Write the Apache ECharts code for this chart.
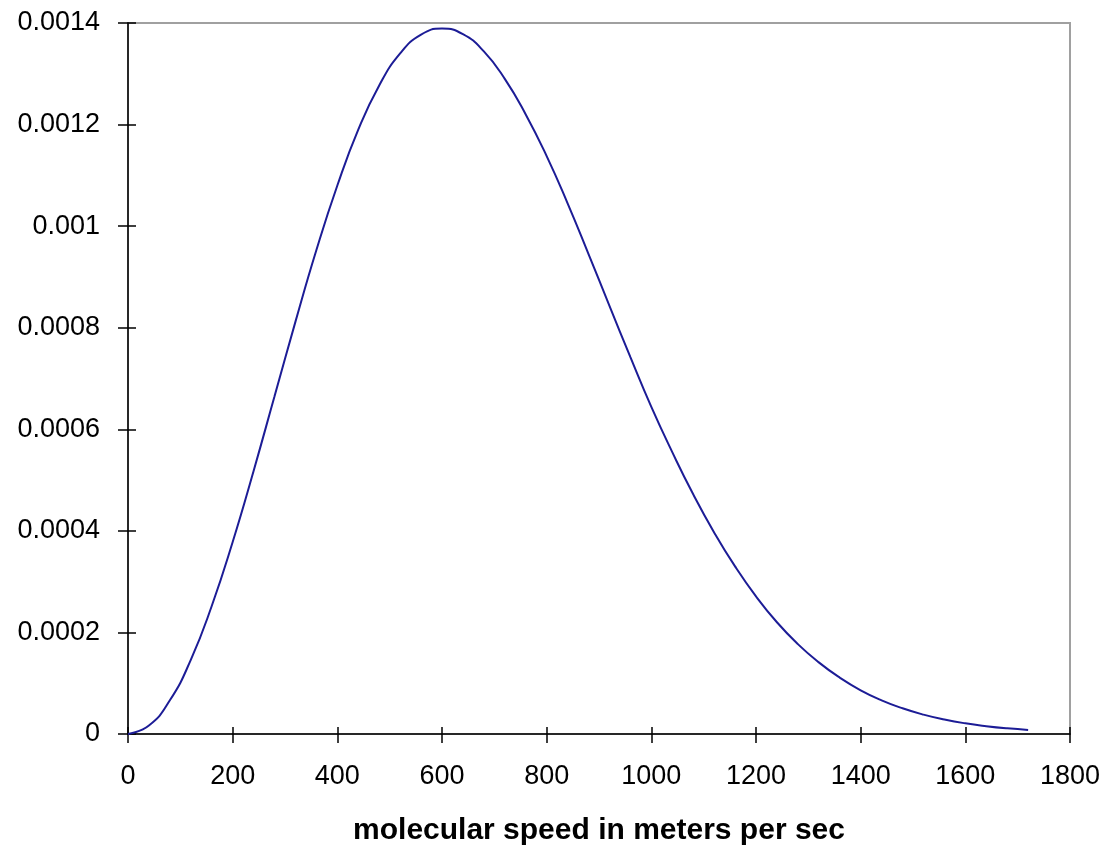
<!DOCTYPE html>
<html>
<head>
<meta charset="utf-8">
<script src="https://cdn.jsdelivr.net/npm/echarts@6/dist/echarts.min.js"></script>
<style>
html,body{margin:0;padding:0;background:#fff;}
#chart{width:1107px;height:848px;}
</style>
</head>
<body>
<div id="chart"></div>
<script>
// molecular speed (m/s)
const speeds = [0,40,80,120,160,200,240,280,320,360,400,440,480,520,560,600,640,680,720,760,800,840,880,920,960,1000,1040,1080,1120,1160,1200,1240,1280,1320,1360,1400,1440,1480,1520,1560,1600,1640,1680,1720];
// probability density
const density = [0,0.0000168,0.0000663,0.000146,0.000252,0.000378,0.000518,0.000665,0.000812,0.000953,0.00108,0.00119,0.001277,0.00134,0.001377,0.001389,0.001378,0.001344,0.00129,0.00122,0.001138,0.001045,0.000945,0.000843,0.000742,0.000644,0.000555,0.000472,0.000397,0.00033,0.000271,0.00022,0.000177,0.000141,0.000111,0.0000861,0.0000663,0.0000506,0.0000381,0.0000285,0.000021,0.0000154,0.0000111,0.000008];
const xTicks = [0,200,400,600,800,1000,1200,1400,1600,1800];
const yTicks = ['0','0.0002','0.0004','0.0006','0.0008','0.001','0.0012','0.0014'];
const xTitle = 'molecular speed in meters per sec';

const chart = echarts.init(document.getElementById('chart'));
const font = 'Liberation Sans, Arial, sans-serif';
const fmtY = v => yTicks[Math.round(v / 0.0002)] ?? String(+Number(v).toFixed(4));
const fmtX = v => String(Math.round(v));
chart.setOption({
  backgroundColor: '#ffffff',
  animation: false,
  grid: {left:128, right:37, top:23, bottom:114, containLabel:false, outerBoundsMode:'none',
         show:true, borderColor:'#a0a0a0', borderWidth:2, backgroundColor:'transparent'},
  xAxis: [
    {type:'value', min:xTicks[0], max:xTicks[xTicks.length-1], interval:200,
     name:xTitle, nameLocation:'middle', nameGap:82,
     nameTextStyle:{fontFamily:font, fontWeight:'bold', fontSize:30, color:'#000'},
     axisLine:{show:true, onZero:false, lineStyle:{color:'#000', width:1.5}},
     axisTick:{show:true, inside:false, length:9, lineStyle:{color:'#000', width:1.5}},
     axisLabel:{fontFamily:font, fontSize:27, color:'#000', margin:29, formatter:fmtX},
     splitLine:{show:false}},
    {type:'value', min:xTicks[0], max:xTicks[xTicks.length-1], interval:200, position:'bottom',
     axisLine:{show:false}, axisTick:{show:true, inside:true, length:7, lineStyle:{color:'#000', width:1.5}},
     axisLabel:{show:false}, splitLine:{show:false}}
  ],
  yAxis: [
    {type:'value', min:0, max:0.0014, interval:0.0002,
     axisLine:{show:true, onZero:false, lineStyle:{color:'#000', width:1.5}},
     axisTick:{show:true, inside:false, length:10, lineStyle:{color:'#000', width:1.5}},
     axisLabel:{fontFamily:font, fontSize:27, color:'#000', margin:28, formatter:fmtY},
     splitLine:{show:false}},
    {type:'value', min:0, max:0.0014, interval:0.0002, position:'left',
     axisLine:{show:false}, axisTick:{show:true, inside:true, length:8, lineStyle:{color:'#000', width:1.5}},
     axisLabel:{show:false}, splitLine:{show:false}}
  ],
  series: [{
    type:'line', xAxisIndex:0, yAxisIndex:0, smooth:true, showSymbol:false,
    lineStyle:{color:'#1c1c96', width:2},
    data: speeds.map((s,i)=>[s, density[i]])
  }]
});
</script>
</body>
</html>
